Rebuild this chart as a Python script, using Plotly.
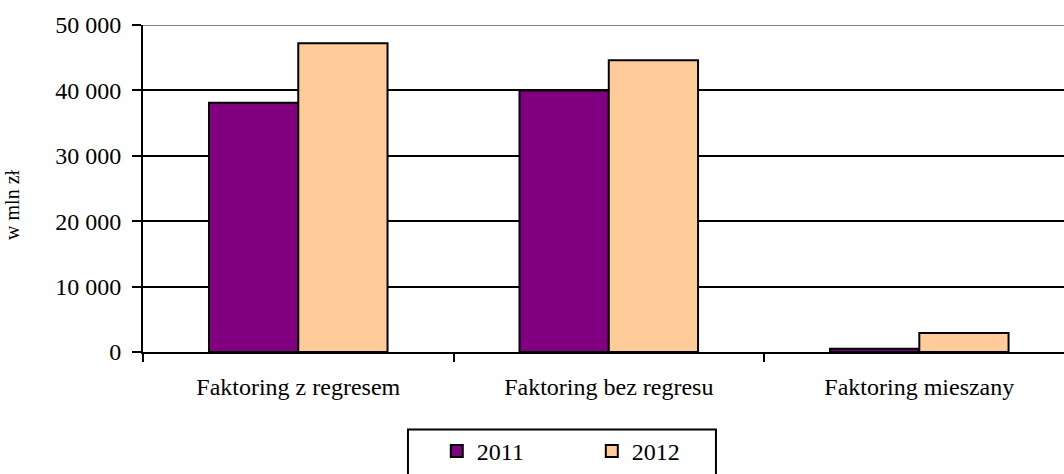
import plotly.graph_objects as go

categories = ["Faktoring z regresem", "Faktoring bez regresu", "Faktoring mieszany"]
series_names = ["2011", "2012"]
values_2011 = [38100, 40000, 500]
values_2012 = [47200, 44600, 2900]
y_ticks = [0, 10000, 20000, 30000, 40000, 50000]
y_title = "w mln zł"

colors = ["#800080", "#FFCC99"]
FONT = "Liberation Serif, Times New Roman, serif"

fig = go.Figure()
for name, vals, col in zip(series_names, [values_2011, values_2012], colors):
    fig.add_trace(go.Bar(
        x=categories, y=vals, name=name,
        marker=dict(color=col, line=dict(color="black", width=2)),
    ))

# top border line of the plot area (gray)
fig.add_shape(type="line", xref="paper", yref="y", x0=0, x1=1, y0=50000, y1=50000,
              line=dict(color="#808080", width=2), layer="above")
# legend frame
fig.add_shape(type="rect", xref="paper", yref="paper",
              x0=0.2877, x1=0.6221, y0=-0.2371, y1=-0.40,
              line=dict(color="black", width=2), fillcolor="rgba(0,0,0,0)", layer="above")

# y-axis title as rotated text
fig.add_annotation(text=y_title, textangle=-90, xref="paper", yref="paper",
                   x=-0.1422, y=0.45, xanchor="center", yanchor="middle",
                   showarrow=False, font=dict(family=FONT, size=20, color="black"))

fig.update_layout(
    width=1064, height=474,
    margin=dict(l=143, r=0, t=25, b=120),
    paper_bgcolor="white", plot_bgcolor="white",
    barmode="group", bargap=0.425, bargroupgap=0,
    separators=", ",
    font=dict(family=FONT, size=24, color="black"),
    showlegend=True,
    legend=dict(
        orientation="h", x=0.319, xanchor="left", y=-0.235, yanchor="top",
        borderwidth=0, bgcolor="rgba(0,0,0,0)",
        font=dict(family=FONT, size=24, color="black"),
        entrywidth=110, entrywidthmode="pixels",
    ),
    xaxis=dict(
        type="category", range=[-0.5, 2.466],
        showline=True, linecolor="black", linewidth=2,
        ticks="outside", tickson="boundaries", ticklen=8, tickwidth=2, tickcolor="black",
        showgrid=False, ticklabelstandoff=12,
    ),
    yaxis=dict(
        range=[0, 50000], tickvals=y_ticks, tickformat=",d",
        showline=True, linecolor="black", linewidth=2,
        ticks="outside", ticklen=9, tickwidth=2, tickcolor="black",
        showgrid=True, gridcolor="black", gridwidth=2,
        zeroline=False, ticklabelstandoff=6,
    ),
)

fig.write_html("out.html", config={"displayModeBar": False},
               post_script="document.body.style.margin='0';")
